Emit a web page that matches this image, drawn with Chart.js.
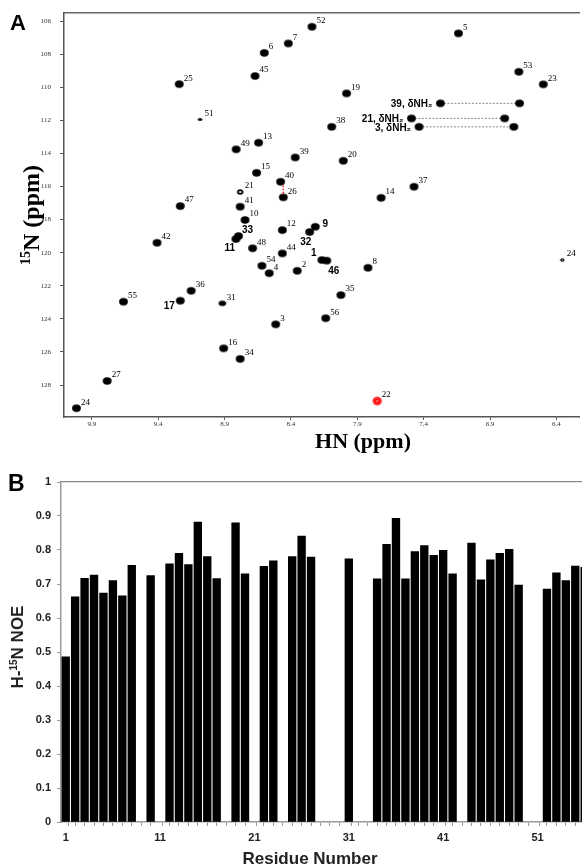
<!DOCTYPE html>
<html><head><meta charset="utf-8">
<script src="https://cdn.jsdelivr.net/npm/chart.js@4.4.0/dist/chart.umd.min.js"></script>
<style>
html,body{margin:0;padding:0;background:#fff;overflow:hidden;width:585px;height:866px;}
#ca{position:absolute;left:0;top:0;}
#cb{position:absolute;left:0;top:458px;}
</style></head><body>
<canvas id="ca" width="585" height="458"></canvas>
<canvas id="cb" width="585" height="408"></canvas>
<script>
// ---------- Panel A : 1H-15N HSQC peaks ----------
const peakLabels = ['1','2','3','4','5','6','7','8','9','10','11','12','13','14','15','16','17','19','20','21','22','23','24','24','25','26','27','31','32','33','34','35','36','37','38','39','40','41','42','44','45','46','47','48','49','51','52','53','54','55','56'];
const peakHN = [8.167,8.353,8.515,8.564,7.138,8.601,8.420,7.820,8.217,8.746,8.815,8.465,8.644,7.721,8.659,8.907,9.234,7.981,8.006,8.783,7.750,6.499,10.016,6.356,9.242,8.458,9.785,8.917,8.259,8.795,8.783,8.024,9.152,7.473,8.093,8.368,8.478,8.783,9.409,8.465,8.671,8.130,9.234,8.689,8.813,9.085,8.242,6.683,8.619,9.662,8.138];
const peakN = [120.44,121.09,124.33,121.24,106.74,107.92,107.35,120.91,118.43,118.02,119.17,118.63,113.35,116.68,115.17,125.78,122.90,110.37,114.44,116.33,128.96,109.82,129.40,120.44,109.81,116.65,127.75,123.06,118.75,118.99,126.42,122.56,122.30,116.01,112.39,114.24,115.71,117.22,119.40,120.04,109.32,120.48,117.18,119.73,113.75,111.94,106.34,109.06,120.79,122.96,123.96];
const hnTicks = [6.4,6.9,7.4,7.9,8.4,8.9,9.4,9.9];
const nTicks = [106,108,110,112,114,116,118,120,122,124,126,128];
// side-chain NH2 pairs
const scLabels = ['39, δNH₂','21, δNH₂','3, δNH₂'];
const scHN1 = [7.274,7.492,7.435];
const scHN2 = [6.678,6.790,6.721];
const scN = [110.97,111.88,112.39];

// ---------- Panel B : heteronuclear NOE ----------
const residues = [1,2,3,4,5,6,7,8,9,10,11,12,13,14,15,16,17,18,19,20,21,22,23,24,25,26,27,28,29,30,31,32,33,34,35,36,37,38,39,40,41,42,43,44,45,46,47,48,49,50,51,52,53,54,55,56];
const noe = [0.486,0.662,0.717,0.726,0.673,0.710,0.665,0.755,null,0.725,
             null,0.759,0.790,0.757,0.882,0.781,0.716,null,0.880,0.730,
             null,0.752,0.768,null,0.781,0.841,0.779,null,null,null,
             0.774,null,null,0.715,0.817,0.893,0.715,0.795,0.813,0.784,
             0.799,0.730,null,0.820,0.712,0.771,0.790,0.802,0.697,null,
             null,0.685,0.733,0.710,0.753,0.749];
const residueTicks = [1,11,21,31,41,51];
const noeTicks = [0,0.1,0.2,0.3,0.4,0.5,0.6,0.7,0.8,0.9,1];

// ---------- helpers ----------
const cache = {};
function ellipse(rx, ry, color, hole) {
  const k = [rx, ry, color, hole].join('|');
  if (cache[k]) return cache[k];
  const c = document.createElement('canvas');
  c.width = Math.ceil(rx * 2 + 2); c.height = Math.ceil(ry * 2 + 2);
  const g = c.getContext('2d');
  g.fillStyle = color;
  g.beginPath(); g.ellipse(c.width / 2, c.height / 2, rx, ry, 0, 0, Math.PI * 2); g.fill();
  if (hole) { g.fillStyle = '#fff'; g.beginPath(); g.ellipse(c.width / 2, c.height / 2, rx * hole, ry * hole, 0, 0, Math.PI * 2); g.fill(); }
  cache[k] = c; return c;
}
function peakStyle(i) {
  const lab = peakLabels[i];
  if (lab === '22') return ellipse(4.6, 4.2, '#ff1a1a', 0.15);
  if (lab === '24' && peakHN[i] < 7) return ellipse(2.2, 1.7, '#000', 0.35);
  if (lab === '51') return ellipse(2.2, 1.5, '#000', 0);
  if (lab === '21') return ellipse(3.2, 2.8, '#000', 0.4);
  if (lab === '31') return ellipse(3.8, 2.7, '#000', 0);
  return ellipse(4.4, 3.7, '#000', 0);
}
const boldPos = {'1':[-8,-7],'9':[10,-3],'11':[-6,9],'17':[-11,6],'32':[-4,10],'33':[9,-6],'46':[7,11]};

const peakLabelPlugin = {
  id: 'peakLabelPlugin',
  afterDatasetsDraw(chart) {
    const ctx = chart.ctx; ctx.save();
    ctx.fillStyle = '#000';
    const meta = chart.getDatasetMeta(0);
    meta.data.forEach((pt, i) => {
      const lab = peakLabels[i];
      if (boldPos[lab]) {
        ctx.font = 'bold 10px "Liberation Sans", Arial, sans-serif';
        ctx.textAlign = 'center'; ctx.textBaseline = 'middle';
        ctx.fillText(lab, pt.x + boldPos[lab][0], pt.y + boldPos[lab][1]);
      } else {
        ctx.font = '9px "Liberation Serif", "Times New Roman", serif';
        ctx.textAlign = 'left'; ctx.textBaseline = 'middle';
        ctx.fillText(lab, pt.x + 4.5, pt.y - 6);
      }
    });
    // side-chain labels
    ctx.font = 'bold 10px "Liberation Sans", Arial, sans-serif';
    ctx.textAlign = 'right'; ctx.textBaseline = 'middle';
    scLabels.forEach((t, j) => {
      const p = chart.getDatasetMeta(j + 1).data[0];
      ctx.fillText(t, p.x - 8, p.y + 1);
    });
    // red connector 40 -> 26
    const i40 = peakLabels.indexOf('40'), i26 = peakLabels.indexOf('26');
    const a = meta.data[i40], b = meta.data[i26];
    ctx.strokeStyle = '#ff2020'; ctx.lineWidth = 1.5; ctx.setLineDash([1.5, 1.5]);
    ctx.beginPath(); ctx.moveTo(b.x, a.y + 4); ctx.lineTo(b.x, b.y - 4); ctx.stroke();
    ctx.restore();
  },
  afterDraw(chart) {
    const ctx = chart.ctx; ctx.save(); ctx.fillStyle = '#000';
    ctx.textBaseline = 'alphabetic';
    ctx.font = 'bold 22px "Liberation Sans", Arial, sans-serif'; ctx.textAlign = 'left';
    ctx.fillText('A', 10, 30);
    ctx.font = 'bold 22px "Liberation Serif", "Times New Roman", serif'; ctx.textAlign = 'center';
    ctx.fillText('HN (ppm)', 363, 448);
    ctx.translate(39, 215); ctx.rotate(-Math.PI / 2);
    const big = 'bold 24px "Liberation Serif", "Times New Roman", serif';
    const small = 'bold 14px "Liberation Serif", "Times New Roman", serif';
    ctx.font = small; const w1 = ctx.measureText('15').width;
    ctx.font = big; const w2 = ctx.measureText('N (ppm)').width;
    const x0 = -(w1 + w2) / 2; ctx.textAlign = 'left';
    ctx.font = small; ctx.fillText('15', x0, -9);
    ctx.font = big; ctx.fillText('N (ppm)', x0 + w1, 0);
    ctx.restore();
  }
};

const datasetsA = [{
  type: 'scatter',
  data: peakHN.map((x, i) => ({x: x, y: peakN[i]})),
  pointStyle: (c) => peakStyle(c.dataIndex),
  pointRadius: 5, pointHoverRadius: 5,
  showLine: false
}];
scLabels.forEach((t, j) => {
  datasetsA.push({
    type: 'scatter',
    data: [{x: scHN1[j], y: scN[j]}, {x: scHN2[j], y: scN[j]}],
    showLine: true, borderColor: '#8a8a8a', borderWidth: 1, borderDash: [2, 1.5],
    pointStyle: ellipse(4.4, 3.7, '#000', 0), pointRadius: 5
  });
});

new Chart(document.getElementById('ca'), {
  type: 'scatter',
  data: {datasets: datasetsA},
  options: {
    responsive: false, animation: false, devicePixelRatio: 1,
    layout: {padding: {top: 13, left: 0, right: 0, bottom: 0}},
    plugins: {legend: {display: false}, tooltip: {enabled: false}},
    scales: {
      x: {
        type: 'linear', reverse: true, min: 6.23, max: 10.11, position: 'bottom',
        afterBuildTicks: (s) => { s.ticks = hnTicks.map(v => ({value: v})); },
        afterFit: (s) => { s.height = 41; },
        ticks: {font: {family: '"Liberation Serif", serif', size: 7}, color: '#333', padding: 0,
                callback: (v) => Number(v).toFixed(1), maxRotation: 0, autoSkip: false},
        grid: {drawOnChartArea: false, drawTicks: true, tickLength: 3, color: '#555'},
        border: {color: '#555', width: 1.5}
      },
      xt: {
        type: 'linear', position: 'top', min: 0, max: 1,
        afterFit: (s) => { s.height = 0; },
        ticks: {display: false}, grid: {display: false, drawTicks: false},
        border: {color: '#666', width: 1.5}
      },
      y: {
        type: 'linear', reverse: true, min: 105.52, max: 129.93, position: 'left',
        afterBuildTicks: (s) => { s.ticks = nTicks.map(v => ({value: v})); },
        afterFit: (s) => { s.width = 64; },
        ticks: {font: {family: '"Liberation Serif", serif', size: 7}, color: '#333', padding: 9, autoSkip: false},
        grid: {drawOnChartArea: false, drawTicks: true, tickLength: 4, color: '#555'},
        border: {color: '#555', width: 1.5}
      }
    }
  },
  plugins: [peakLabelPlugin]
});

// ---------- Panel B ----------
const titlesB = {
  id: 'titlesB',
  afterDraw(chart) {
    const ctx = chart.ctx; ctx.save(); ctx.fillStyle = '#000'; ctx.textBaseline = 'alphabetic';
    ctx.font = 'bold 23px "Liberation Sans", Arial, sans-serif'; ctx.textAlign = 'left';
    ctx.fillText('B', 8, 33);
    ctx.font = 'bold 17px "Liberation Sans", Arial, sans-serif'; ctx.textAlign = 'center';
    ctx.fillStyle = '#222';
    ctx.fillText('Residue Number', 310, 406);
    ctx.translate(23, 189); ctx.rotate(-Math.PI / 2);
    const big = 'bold 17px "Liberation Sans", Arial, sans-serif';
    const small = 'bold 10px "Liberation Sans", Arial, sans-serif';
    ctx.font = big; const wa = ctx.measureText('H-').width; const wc = ctx.measureText('N NOE').width;
    ctx.font = small; const wb = ctx.measureText('15').width;
    let x0 = -(wa + wb + wc) / 2; ctx.textAlign = 'left';
    ctx.font = big; ctx.fillText('H-', x0, 0);
    ctx.font = small; ctx.fillText('15', x0 + wa, -6);
    ctx.font = big; ctx.fillText('N NOE', x0 + wa + wb, 0);
    ctx.restore();
  }
};

new Chart(document.getElementById('cb'), {
  type: 'bar',
  data: {
    labels: residues,
    datasets: [{data: noe, backgroundColor: '#000', borderWidth: 0, barThickness: 7.7}]
  },
  options: {
    responsive: false, animation: false, devicePixelRatio: 1,
    layout: {padding: {top: 24, left: 0, right: 0, bottom: 0}},
    plugins: {legend: {display: false}, tooltip: {enabled: false}},
    scales: {
      x: {
        type: 'linear', min: 0.5, max: 55.7, position: 'bottom', offset: false,
        afterBuildTicks: (s) => {
          const t = [];
          residues.forEach(r => {
            if (residueTicks.includes(r)) t.push({value: r});
            if (r + 0.5 <= s.max) t.push({value: r + 0.5});
          });
          s.ticks = t;
        },
        afterFit: (s) => { s.height = 44; },
        ticks: {autoSkip: false, maxRotation: 0, padding: 5, color: '#222',
                font: {family: '"Liberation Sans", Arial, sans-serif', size: 11, weight: 'bold'},
                callback: (v) => residueTicks.includes(v) ? String(v) : ''},
        grid: {drawOnChartArea: false, drawTicks: true, tickLength: 4,
               color: (c) => (c.tick && Number.isInteger(c.tick.value)) ? 'rgba(0,0,0,0)' : '#999'},
        border: {color: '#999', width: 1.5}
      },
      xt: {
        type: 'linear', position: 'top', min: 0, max: 1,
        afterFit: (s) => { s.height = 0; },
        ticks: {display: false}, grid: {display: false, drawTicks: false},
        border: {color: '#888', width: 1.2}
      },
      y: {
        type: 'linear', min: 0, max: 1, position: 'left',
        afterBuildTicks: (s) => { s.ticks = noeTicks.map(v => ({value: v})); },
        afterFit: (s) => { s.width = 61; },
        ticks: {autoSkip: false, padding: 6, color: '#222',
                font: {family: '"Liberation Sans", Arial, sans-serif', size: 11, weight: 'bold'},
                callback: (v) => (v === 0 || v === 1) ? String(v) : Number(v).toFixed(1)},
        grid: {drawOnChartArea: false, drawTicks: true, tickLength: 4, color: '#999'},
        border: {color: '#999', width: 1.5}
      }
    }
  },
  plugins: [titlesB]
});
</script>
</body></html>
